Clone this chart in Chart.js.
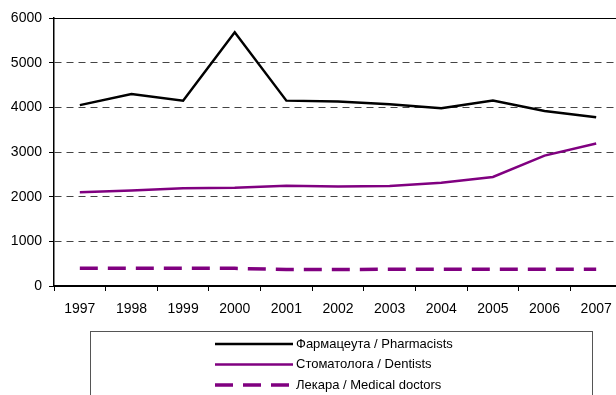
<!DOCTYPE html>
<html>
<head>
<meta charset="utf-8">
<script src="https://cdn.jsdelivr.net/npm/chart.js@4/dist/chart.umd.min.js"></script>
<style>
  html, body { margin: 0; padding: 0; overflow: hidden; background: #fff; }
  #wrap { position: relative; width: 624px; height: 395px; }
</style>
</head>
<body>
<div id="wrap"><canvas id="c"></canvas></div>
<script>
// Years on the horizontal axis
const years = ['1997', '1998', '1999', '2000', '2001', '2002', '2003', '2004', '2005', '2006', '2007'];

// Series values
const pharmacists = [4050, 4300, 4150, 5680, 4150, 4130, 4070, 3980, 4150, 3920, 3780];
const dentists    = [2100, 2140, 2190, 2200, 2245, 2230, 2240, 2310, 2440, 2920, 3190];
const doctors     = [400, 395, 395, 395, 370, 370, 375, 375, 375, 375, 375];

// Series names
const seriesLabels = ['Фармацеута / Pharmacists', 'Стоматолога / Dentists', 'Лекара / Medical doctors'];

// Value axis range and step
const yMin = 0, yMax = 6000, yStep = 1000;

const FONT = '"Liberation Sans", Arial, sans-serif';
const PURPLE = '#800080';

// Solid top edge of the plot and the boxed legend underneath
const framePlugin = {
  id: 'frameAndLegend',
  afterDraw(chart) {
    const ctx = chart.ctx;
    const a = chart.chartArea;
    ctx.save();
    ctx.strokeStyle = '#000';
    ctx.lineWidth = 1;
    ctx.setLineDash([]);
    ctx.beginPath();
    ctx.moveTo(a.left, Math.round(a.top) + 0.5);
    ctx.lineTo(a.right, Math.round(a.top) + 0.5);
    ctx.stroke();

    // legend frame
    ctx.strokeStyle = '#555';
    ctx.lineWidth = 1;
    ctx.strokeRect(90.5, 331.5, 502, 80);

    ctx.font = '13px ' + FONT;
    ctx.textBaseline = 'middle';
    ctx.textAlign = 'left';
    chart.data.datasets.forEach((ds, i) => {
      const y = 344 + i * 20.5;
      ctx.strokeStyle = ds.borderColor;
      ctx.lineWidth = ds.borderWidth;
      ctx.setLineDash(ds.borderDash || []);
      ctx.beginPath();
      ctx.moveTo(215, y);
      ctx.lineTo(293, y);
      ctx.stroke();
      ctx.setLineDash([]);
      ctx.fillStyle = '#000';
      ctx.fillText(ds.label, 296, y);
    });
    ctx.restore();
  }
};

new Chart(document.getElementById('c'), {
  type: 'line',
  data: {
    labels: years,
    datasets: [
      { label: seriesLabels[0], data: pharmacists, borderColor: '#000', borderWidth: 2.5 },
      { label: seriesLabels[1], data: dentists, borderColor: PURPLE, borderWidth: 2.5 },
      { label: seriesLabels[2], data: doctors, borderColor: PURPLE, borderWidth: 3.5, borderDash: [18, 10] }
    ]
  },
  options: {
    responsive: true,
    maintainAspectRatio: false,
    animation: false,
    layout: { padding: { top: 18, right: 2, bottom: 79, left: 0 } },
    elements: {
      line: { tension: 0, fill: false },
      point: { radius: 0, hoverRadius: 0 }
    },
    plugins: {
      legend: { display: false },
      tooltip: { enabled: false }
    },
    scales: {
      x: {
        type: 'category',
        offset: true,
        grid: { offset: true, drawOnChartArea: false, drawTicks: true, tickLength: 5, color: '#000', lineWidth: 1 },
        border: { display: true, color: '#000', width: 2 },
        ticks: { color: '#000', font: { family: FONT, size: 14 }, padding: 10, maxRotation: 0, autoSkip: false },
        afterFit(scale) { scale.height = 30; }
      },
      y: {
        min: yMin,
        max: yMax,
        ticks: { stepSize: yStep, color: '#000', font: { family: FONT, size: 14 }, padding: 7,
                 callback: (v) => String(v) },
        grid: { color: '#444', lineWidth: 1, tickLength: 5, tickColor: '#000', tickBorderDash: [] },
        border: { display: true, color: '#000', width: 1.5, dash: [7, 5] },
        afterFit(scale) { scale.width = 54; }
      }
    }
  },
  plugins: [framePlugin]
});
</script>
</body>
</html>
